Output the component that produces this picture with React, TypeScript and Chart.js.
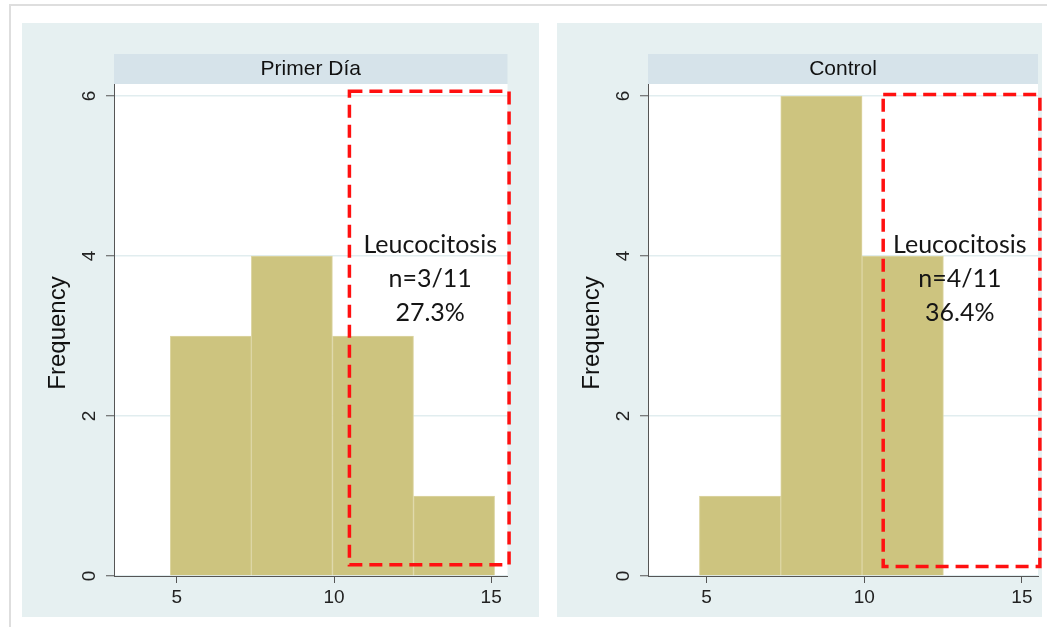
import React, { useEffect, useRef } from "react";
import { Chart, registerables } from "chart.js";

Chart.register(...registerables);

// ---------- data ----------
const panelTitles = ["Primer Día", "Control"];
const binWidth = 2.58;
const primerBinStarts = [4.79, 7.37, 9.95, 12.53];
const primerCounts = [3, 4, 3, 1];
const controlBinStarts = [4.77, 7.35, 9.93];
const controlCounts = [1, 6, 4];
const xTickValues = [5, 10, 15];
const yTickValues = [0, 2, 4, 6];
const yAxisMax = 6.15;
const primerXRange = [3.0, 15.52];
const controlXRange = [3.14, 15.51];
// dashed "leucocitosis" region: [xMin, xMax, yMin, yMax]
const primerBox = [10.49, 15.57, 0.14, 6.06];
const controlBox = [10.6, 15.57, 0.12, 6.02];
const primerNote = ["Leucocitosis", "n=3/11", "27.3%"];
const controlNote = ["Leucocitosis", "n=4/11", "36.4%"];
const primerNoteAnchor = [13.06, 4.04];
const controlNoteAnchor = [13.03, 4.04];
const yAxisTitle = "Frequency";

// ---------- styles ----------
const PANEL_BG = "#e6f0f1";
const STRIP_BG = "#d6e3ea";
const BAR_FILL = "#cdc47f";
const BAR_EDGE = "#ddd6a4";
const AXIS = "#555555";
const GRID = "#e1edef";
const SANS = '"Liberation Sans", Arial, sans-serif';

type PanelCfg = {
  title: string;
  starts: number[];
  counts: number[];
  xRange: number[];
  box: number[];
  note: string[];
  noteAnchor: number[];
  width: number;
  height: number;
  yWidth: number;
  rightPad: number;
};

function makeDecor(cfg: PanelCfg) {
  return {
    id: "decor",
    beforeDraw(chart: any) {
      const ctx = chart.ctx as CanvasRenderingContext2D;
      const { left, right, top, bottom } = chart.chartArea;
      ctx.save();
      ctx.fillStyle = "#ffffff";
      ctx.fillRect(left, top, right - left, bottom - top);
      ctx.restore();
    },
    afterDraw(chart: any) {
      const ctx = chart.ctx as CanvasRenderingContext2D;
      const { left, right, top, bottom } = chart.chartArea;
      const xs = chart.scales.x;
      const ys = chart.scales.y;
      ctx.save();
      // title strip
      ctx.fillStyle = STRIP_BG;
      ctx.fillRect(left, top - 30, right - left, 30);
      ctx.fillStyle = "#111111";
      ctx.font = `21px ${SANS}`;
      ctx.textAlign = "center";
      ctx.textBaseline = "middle";
      ctx.fillText(cfg.title, (left + right) / 2, top - 15);

      // rotated y tick labels
      ctx.font = `19px ${SANS}`;
      ctx.fillStyle = "#222222";
      for (const v of yTickValues) {
        const y = ys.getPixelForValue(v);
        ctx.save();
        ctx.translate(left - 24, y);
        ctx.rotate(-Math.PI / 2);
        ctx.textAlign = "center";
        ctx.textBaseline = "middle";
        ctx.fillText(String(v), 0, 0);
        ctx.restore();
      }
      // y axis title
      ctx.save();
      ctx.translate(left - 56, (top + bottom) / 2 + 3);
      ctx.rotate(-Math.PI / 2);
      ctx.font = `24px ${SANS}`;
      ctx.fillStyle = "#111111";
      ctx.textAlign = "center";
      ctx.textBaseline = "middle";
      ctx.fillText(yAxisTitle, 0, 0);
      ctx.restore();

      // dashed box
      const [x0, x1, y0, y1] = cfg.box;
      const px0 = xs.getPixelForValue(x0);
      const px1 = xs.getPixelForValue(x1);
      const py0 = ys.getPixelForValue(y0);
      const py1 = ys.getPixelForValue(y1);
      ctx.strokeStyle = "#ff1010";
      ctx.lineWidth = 3.5;
      ctx.setLineDash([13, 7]);
      ctx.strokeRect(px0, py1, px1 - px0, py0 - py1);
      ctx.setLineDash([]);

      // note text
      ctx.font = `25px Lato, "Open Sans", sans-serif`;
      ctx.fillStyle = "#151515";
      ctx.textAlign = "center";
      ctx.textBaseline = "alphabetic";
      const ax = xs.getPixelForValue(cfg.noteAnchor[0]);
      const ay = ys.getPixelForValue(cfg.noteAnchor[1]);
      cfg.note.forEach((line, i) => {
        ctx.fillText(line, ax, ay + i * 34.3);
      });
      ctx.restore();
    },
  };
}

function Panel({ cfg }: { cfg: PanelCfg }) {
  const ref = useRef<HTMLCanvasElement | null>(null);
  useEffect(() => {
    if (!ref.current) return;
    const data = cfg.starts.map((s, i) => ({ x: s + binWidth / 2, y: cfg.counts[i] }));
    const chart = new Chart(ref.current, {
      type: "bar",
      data: {
        datasets: [
          {
            data: data as any,
            backgroundColor: BAR_FILL,
            borderColor: BAR_EDGE,
            borderWidth: 1,
            barPercentage: 1,
            categoryPercentage: 1,
          },
        ],
      },
      options: {
        responsive: false,
        animation: false,
        devicePixelRatio: 1,
        layout: { padding: { left: 0, top: 61, right: cfg.rightPad, bottom: 0 } },
        plugins: { legend: { display: false }, title: { display: false }, tooltip: { enabled: false } },
        scales: {
          x: {
            type: "linear",
            min: cfg.xRange[0],
            max: cfg.xRange[1],
            offset: false,
            afterBuildTicks: (s: any) => {
              s.ticks = xTickValues.map((v) => ({ value: v }));
            },
            afterFit: (s: any) => {
              s.height = 41;
            },
            grid: {
              offset: false,
              drawOnChartArea: false,
              drawTicks: true,
              tickLength: 7,
              tickColor: AXIS,
              tickWidth: 1,
            },
            border: { display: true, color: AXIS, width: 1 },
            ticks: {
              color: "#222222",
              font: { family: SANS, size: 19 },
              padding: 3,
              maxRotation: 0,
              minRotation: 0,
              callback: (v: any) => String(v),
            },
          },
          y: {
            type: "linear",
            min: 0,
            max: yAxisMax,
            afterBuildTicks: (s: any) => {
              s.ticks = yTickValues.map((v) => ({ value: v }));
            },
            afterFit: (s: any) => {
              s.width = cfg.yWidth;
            },
            grid: {
              color: GRID,
              lineWidth: 1.5,
              drawTicks: true,
              tickLength: 8,
              tickColor: AXIS,
              tickWidth: 1,
            },
            border: { display: true, color: AXIS, width: 1 },
            ticks: { display: true, color: "rgba(0,0,0,0)", font: { size: 1 } },
          },
        },
      },
      plugins: [makeDecor(cfg)],
    });
    return () => chart.destroy();
  }, [cfg]);
  return (
    <canvas
      ref={ref}
      width={cfg.width}
      height={cfg.height}
      style={{ position: "absolute", left: 0, top: 0, width: cfg.width, height: cfg.height }}
    />
  );
}

const leftCfg: PanelCfg = {
  title: panelTitles[0],
  starts: primerBinStarts,
  counts: primerCounts,
  xRange: primerXRange,
  box: primerBox,
  note: primerNote,
  noteAnchor: primerNoteAnchor,
  width: 517,
  height: 594,
  yWidth: 92,
  rightPad: 31.5,
};

const rightCfg: PanelCfg = {
  title: panelTitles[1],
  starts: controlBinStarts,
  counts: controlCounts,
  xRange: controlXRange,
  box: controlBox,
  note: controlNote,
  noteAnchor: controlNoteAnchor,
  width: 485,
  height: 594,
  yWidth: 91,
  rightPad: 4,
};

export default function App() {
  return (
    <div style={{ position: "absolute", left: 0, top: 0, width: 1047, height: 627, background: "#ffffff", overflow: "hidden" }}>
      <div
        style={{
          position: "absolute",
          left: 9,
          top: 4,
          width: 1100,
          height: 700,
          borderTop: "2px solid #dedede",
          borderLeft: "2px solid #dedede",
        }}
      />
      <div style={{ position: "absolute", left: 22, top: 23, width: 517, height: 594, background: PANEL_BG }}>
        <Panel cfg={leftCfg} />
      </div>
      <div style={{ position: "absolute", left: 557, top: 23, width: 485, height: 594, background: PANEL_BG }}>
        <Panel cfg={rightCfg} />
      </div>
    </div>
  );
}
